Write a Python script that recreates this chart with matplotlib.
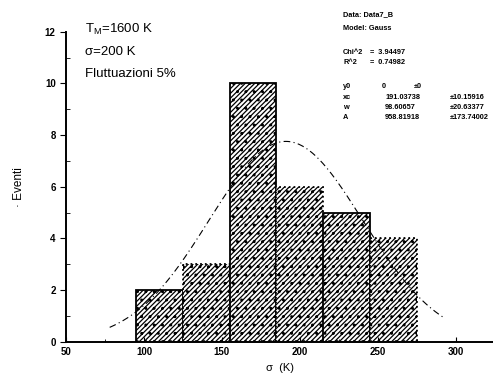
import numpy as np
import matplotlib
matplotlib.use("Agg")
import matplotlib.pyplot as plt
from matplotlib.ticker import MultipleLocator

plt.rcParams['font.family'] = ['Liberation Sans', 'DejaVu Sans']
plt.rcParams['hatch.linewidth'] = 0.9
plt.rcParams['hatch.color'] = '#1a1a1a'

# histogram bins (K) and counts
bin_left = [95, 125, 155, 185, 215, 245]
bin_width = 30
counts = [2, 3, 10, 6, 5, 4]
edge_styles = ['-', ':', '-', ':', '-', ':']

# Gauss fit parameters (Origin form)
y0 = 0.0
xc = 191.03738
w = 98.60657
A = 958.81918

fig = plt.figure(figsize=(4.93, 3.88), dpi=100)
ax = fig.add_axes([0.134, 0.119, 0.866, 0.799])

for x, c, ls in zip(bin_left, counts, edge_styles):
    ax.bar(x, c, width=bin_width, align='edge', color='white',
           edgecolor='black', linewidth=1.3, linestyle=ls, hatch='///////..')

xs = np.linspace(78, 292, 300)
ys = y0 + A / (w * np.sqrt(np.pi / 2)) * np.exp(-2 * ((xs - xc) / w) ** 2)
ax.plot(xs, ys, color='black', lw=0.8, linestyle=(0, (6, 3, 1, 3)))

ax.set_xlim(50, 324)
ax.set_ylim(0, 12)
ax.xaxis.set_major_locator(MultipleLocator(50))
ax.xaxis.set_minor_locator(MultipleLocator(25))
ax.yaxis.set_major_locator(MultipleLocator(2))
ax.yaxis.set_minor_locator(MultipleLocator(1))
ax.tick_params(axis='x', which='both', direction='in', labelsize=7, pad=4)
ax.tick_params(axis='y', which='major', direction='out', labelsize=7, length=4)
ax.tick_params(axis='y', which='minor', direction='in', length=3)
for lab in ax.get_xticklabels() + ax.get_yticklabels():
    lab.set_fontweight('bold')
for s in ['top', 'right']:
    ax.spines[s].set_visible(False)
ax.spines['left'].set_linewidth(1.4)
ax.spines['bottom'].set_linewidth(1.4)

ax.set_xlabel('σ  (K)', fontsize=8, labelpad=4)
ax.set_ylabel('· Eventi', fontsize=8.5, labelpad=14)

fig.text(0.172, 0.925, r'T$_\mathregular{M}$=1600 K', fontsize=9.5, va='center')
fig.text(0.172, 0.865, 'σ=200 K', fontsize=9.5, va='center')
fig.text(0.172, 0.81, 'Fluttuazioni 5%', fontsize=9.5, va='center')

bx = 343 / 493
tx = lambda px: px / 493
ty = lambda py: 1 - py / 388
kw = dict(fontsize=5.3, fontweight='bold', va='center')
fig.text(bx, ty(15), 'Data: Data7_B', **kw)
fig.text(bx, ty(28), 'Model: Gauss', **kw)
fig.text(bx, ty(53), 'Chi^2', **kw)
fig.text(tx(370), ty(53), '=  3.94497', **kw)
fig.text(bx, ty(62), 'R^2', **kw)
fig.text(tx(370), ty(62), '=  0.74982', **kw)
rows = [('y0', '0', '±0'),
        ('xc', '191.03738', '±10.15916'),
        ('w', '98.60657', '±20.63377'),
        ('A', '958.81918', '±173.74002')]
for i, (n, v, e) in enumerate(rows):
    yy = ty(87 + i * 10.3)
    fig.text(bx, yy, n, **kw)
    fig.text(tx(385) if i else tx(382), yy, v, **kw)
    fig.text(tx(450) if i else tx(414), yy, e, **kw)

fig.savefig('out.png', dpi=100)
